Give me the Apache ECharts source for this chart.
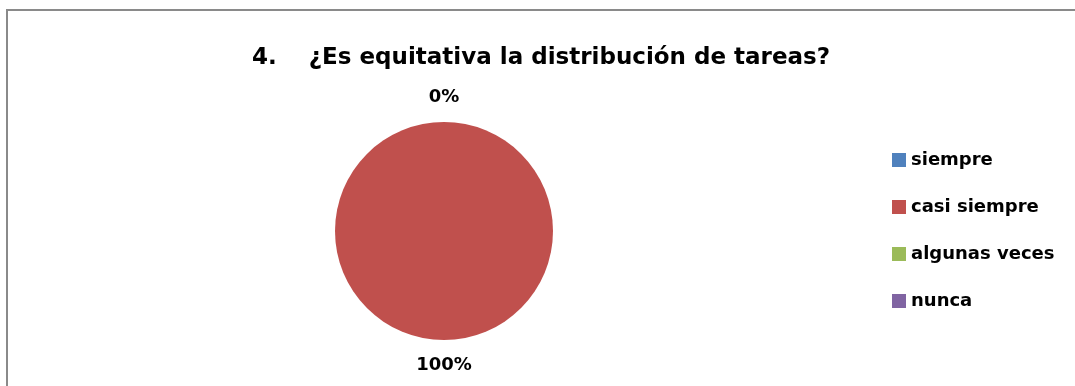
<!DOCTYPE html>
<html>
<head>
<meta charset="utf-8">
<script src="https://cdn.jsdelivr.net/npm/echarts@6/dist/echarts.min.js"></script>
<style>
html,body{margin:0;padding:0;background:#fff;}
#chart{width:1075px;height:386px;}
</style>
</head>
<body>
<div id="chart"></div>
<script>
const titleText = '4.    ¿Es equitativa la distribución de tareas?';
const categories = ['siempre', 'casi siempre', 'algunas veces', 'nunca'];
const values = [0, 100, 0, 0];
const percentLabels = ['0%', '100%', '0%', '0%'];
const showLabel = [true, true, false, false];
const colors = ['#4F81BD', '#C0504D', '#9BBB59', '#8064A2'];

const chart = echarts.init(document.getElementById('chart'));
const font = 'DejaVu Sans';
chart.setOption({
  animation: false,
  backgroundColor: '#ffffff',
  color: colors,
  title: {
    text: titleText,
    left: 252,
    top: 46,
    padding: 0,
    textStyle: { fontFamily: font, fontWeight: 'bold', fontSize: 23, lineHeight: 24, color: '#000' }
  },
  legend: {
    orient: 'vertical',
    left: 892,
    top: 151,
    padding: 0,
    itemWidth: 14,
    itemHeight: 14,
    itemGap: 29,
    icon: 'rect',
    data: categories,
    textStyle: { fontFamily: font, fontWeight: 'bold', fontSize: 18, lineHeight: 18, color: '#000' }
  },
  graphic: [{
    type: 'rect',
    shape: { x: 7, y: 10, width: 1200, height: 500 },
    style: { fill: 'none', stroke: '#8a8a8a', lineWidth: 2 },
    silent: true
  }],
  series: [{
    type: 'pie',
    center: [444, 231],
    radius: 109,
    startAngle: 90,
    clockwise: true,
    avoidLabelOverlap: false,
    emphasis: { disabled: true },
    data: categories.map((c, i) => ({
      name: c,
      value: values[i],
      label: { show: showLabel[i], formatter: percentLabels[i] }
    })),
    label: {
      position: 'outside',
      distanceToLabelLine: 0,
      fontFamily: font,
      fontWeight: 'bold',
      fontSize: 18,
      color: '#000'
    },
    labelLine: { show: false, length: 25, length2: 0 },
    labelLayout: function () { return { align: 'center', verticalAlign: 'middle' }; }
  }]
});
</script>
</body>
</html>
